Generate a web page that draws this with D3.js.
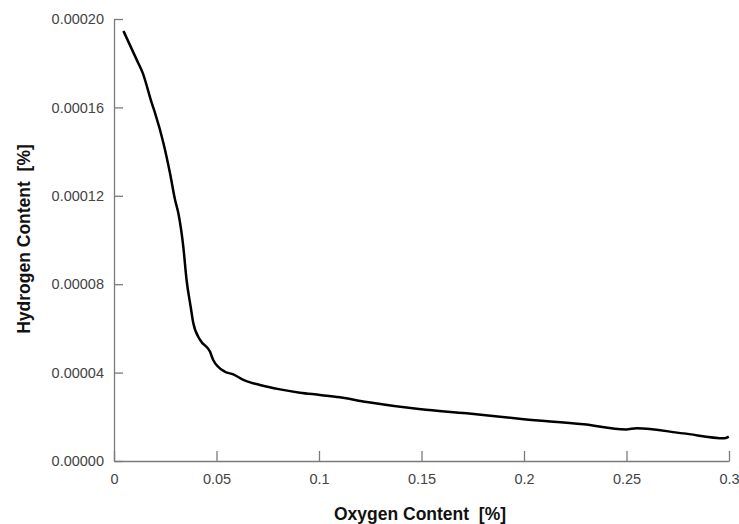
<!DOCTYPE html>
<html>
<head>
<meta charset="utf-8">
<script src="https://cdn.jsdelivr.net/npm/d3@7"></script>
<style>
  body { margin: 0; background: #fff; }
  .axis path, .axis line { stroke: #7a7a7a; stroke-width: 1.3; }
  .axis text { fill: #444; font-family: "Liberation Sans", Arial, sans-serif; font-size: 14.5px; }
  .title { font-family: "Liberation Sans", Arial, sans-serif; font-weight: bold; font-size: 17.5px; fill: #111; white-space: pre; }
</style>
</head>
<body>
<div id="chart"></div>
<script>
// oxygen content [%] (x) and hydrogen content [%] (y)
var oxygen = [0.0046, 0.0111, 0.014, 0.0184, 0.020, 0.0241, 0.0273, 0.0298, 0.0314, 0.0338,
  0.0354, 0.0374, 0.0387, 0.042, 0.0468, 0.0484, 0.0541, 0.0582, 0.0631, 0.0712,
  0.081, 0.0907, 0.1005, 0.1102, 0.1233, 0.1498, 0.172, 0.1999, 0.229, 0.2498,
  0.255, 0.2777, 0.298, 0.2999];
var hydrogen = [0.0001946, 0.0001815, 0.0001756, 0.000162, 0.0001575, 0.0001439, 0.0001303, 0.0001181, 0.0001121, 0.000097,
  0.0000819, 0.0000698, 0.0000623, 0.0000548, 0.0000495, 0.0000457, 0.0000404, 0.0000392, 0.0000367, 0.0000344,
  0.0000324, 0.0000309, 0.0000299, 0.0000288, 0.0000267, 0.0000234, 0.0000216, 0.0000189, 0.0000166, 0.0000143,
  0.0000148, 0.0000125, 0.0000103, 0.000011];

var xTicks = [0, 0.05, 0.1, 0.15, 0.2, 0.25, 0.3];
var yTicks = [0, 0.00004, 0.00008, 0.00012, 0.00016, 0.0002];

var width = 739,
    height = 524,
    margin = {top: 19, right: 10, bottom: 63, left: 114};

var svg = d3.select('#chart').append('svg')
  .attr('width', width)
  .attr('height', height);

var xScale = d3.scaleLinear()
  .domain([0, 0.3])
  .range([margin.left, width - margin.right]);

var yScale = d3.scaleLinear()
  .domain([0, 0.0002])
  .range([height - margin.bottom, margin.top]);

// ticks point inward on both axes
var xAxis = d3.axisBottom(xScale)
  .tickValues(xTicks)
  .tickFormat(d => String(d))
  .tickSizeInner(-10)
  .tickSizeOuter(0)
  .tickPadding(13);

var yAxis = d3.axisLeft(yScale)
  .tickValues(yTicks)
  .tickFormat(d => d.toFixed(5))
  .tickSizeInner(-9)
  .tickSizeOuter(0)
  .tickPadding(10);

svg.append('g')
  .attr('class', 'axis')
  .attr('transform', 'translate(0,' + (height - margin.bottom) + ')')
  .call(xAxis);

svg.append('g')
  .attr('class', 'axis')
  .attr('transform', 'translate(' + margin.left + ',0)')
  .call(yAxis);

var points = oxygen.map((x, i) => [x, hydrogen[i]]);

var line = d3.line()
  .x(d => xScale(d[0]))
  .y(d => yScale(d[1]))
  .curve(d3.curveMonotoneX);

svg.append('path')
  .datum(points)
  .attr('d', line)
  .attr('fill', 'none')
  .attr('stroke', '#000')
  .attr('stroke-width', 2.5)
  .attr('stroke-linejoin', 'round');

svg.append('text')
  .attr('class', 'title')
  .attr('x', 420)
  .attr('y', 520)
  .attr('text-anchor', 'middle')
  .text('Oxygen Content  [%]');

svg.append('text')
  .attr('class', 'title')
  .attr('transform', 'rotate(-90)')
  .attr('x', -239)
  .attr('y', 30)
  .attr('text-anchor', 'middle')
  .text('Hydrogen Content  [%]');
</script>
</body>
</html>
